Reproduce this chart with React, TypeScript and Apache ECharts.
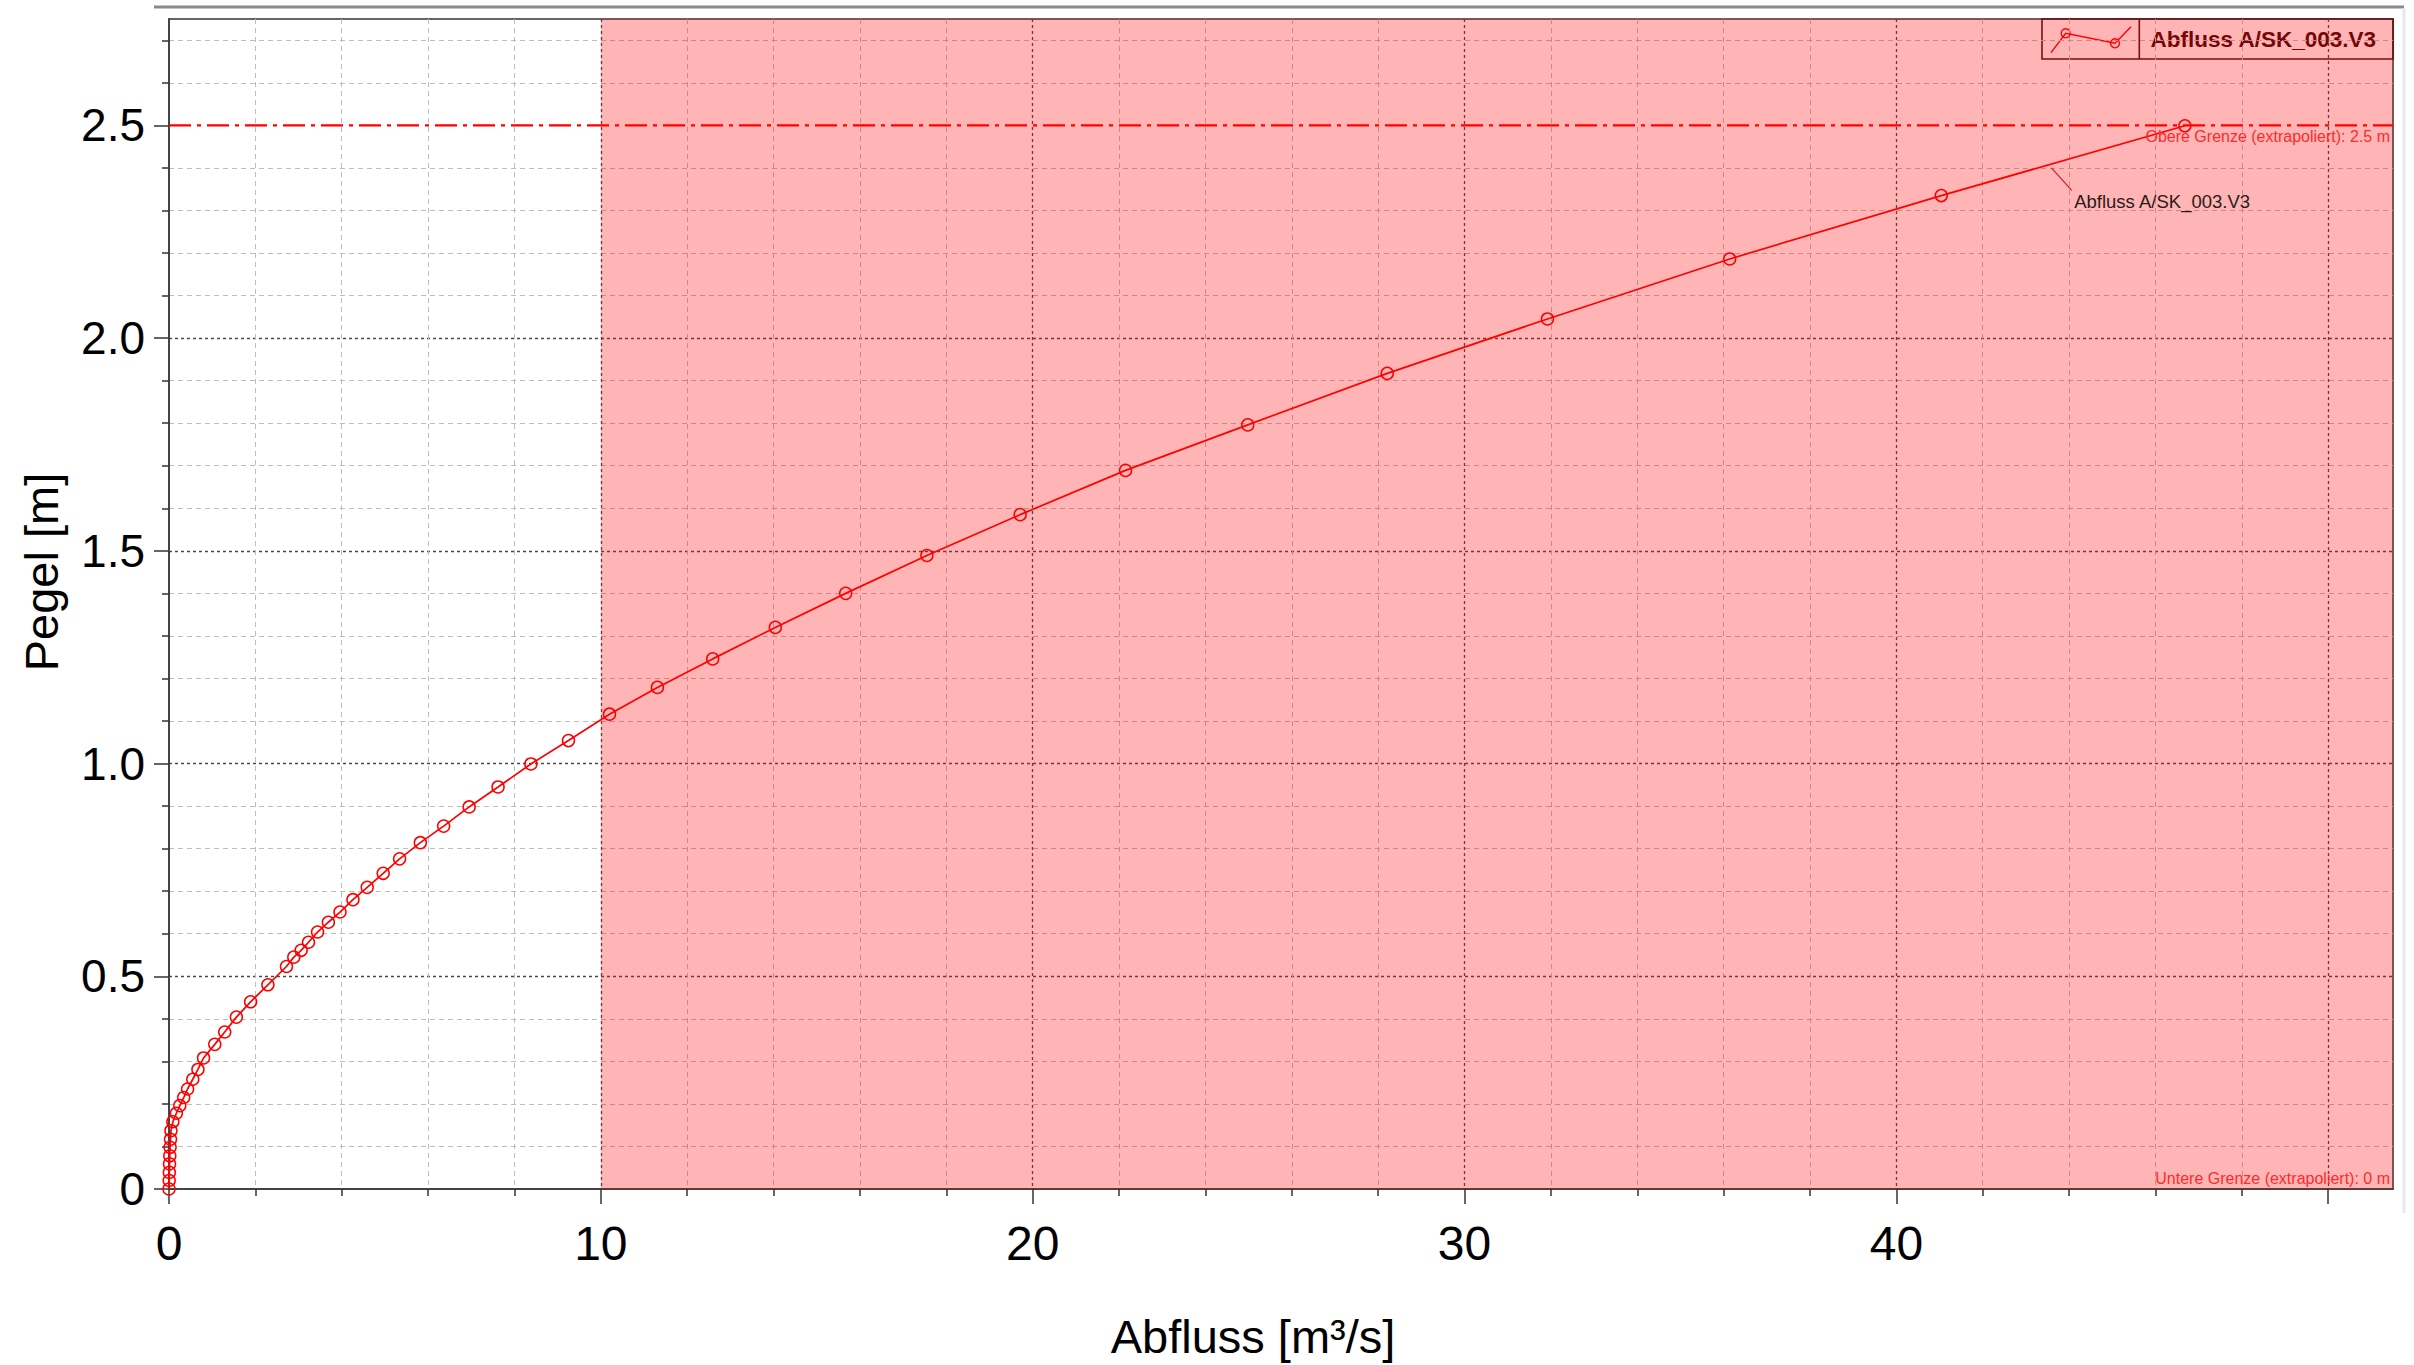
import React, { useEffect, useRef } from "react";
import * as echarts from "echarts";

// ---- data ----
const seriesName = "Abfluss A/SK_003.V3";
const dischargeQ = [
  0, 0.004, 0.008, 0.012, 0.018, 0.025, 0.035, 0.045, 0.09, 0.17, 0.25, 0.34,
  0.43, 0.55, 0.67, 0.8, 1.06, 1.29, 1.56, 1.89, 2.29, 2.72, 2.89, 3.06, 3.23,
  3.44, 3.69, 3.96, 4.26, 4.59, 4.96, 5.34, 5.82, 6.36, 6.95, 7.62, 8.38, 9.25,
  10.2, 11.31, 12.59, 14.04, 15.67, 17.55, 19.71, 22.15, 24.98, 28.21, 31.92,
  36.14, 41.04, 46.68,
];
const gaugeH = [
  0, 0.02, 0.039, 0.059, 0.078, 0.098, 0.117, 0.137, 0.158, 0.178, 0.196,
  0.215, 0.235, 0.258, 0.281, 0.308, 0.34, 0.369, 0.404, 0.44, 0.48, 0.523,
  0.545, 0.561, 0.58, 0.604, 0.627, 0.651, 0.68, 0.709, 0.742, 0.776, 0.814,
  0.853, 0.898, 0.945, 0.999, 1.054, 1.116, 1.179, 1.246, 1.32, 1.4, 1.489,
  1.585, 1.689, 1.796, 1.917, 2.045, 2.186, 2.335, 2.499,
];
const xMajorTicks = [0, 10, 20, 30, 40, 50];
const xTickLabels = [0, 10, 20, 30, 40];
const xMinorTicks = [2, 4, 6, 8, 12, 14, 16, 18, 22, 24, 26, 28, 32, 34, 36, 38, 42, 44, 46, 48];
const yMajorTicks = [0, 0.5, 1, 1.5, 2, 2.5];
const yMajorGridLines = [0.5, 1, 1.5, 2];
const yMinorTicks = [
  0.1, 0.2, 0.3, 0.4, 0.6, 0.7, 0.8, 0.9, 1.1, 1.2, 1.3, 1.4, 1.6, 1.7, 1.8,
  1.9, 2.1, 2.2, 2.3, 2.4, 2.6, 2.7,
];
const X_MAX = 51.5;
const Y_MAX = 2.75;
const shadedFrom = 10;
const upperLimit = 2.5;
const lowerLimit = 0;
const upperLabel = "Obere Grenze (extrapoliert): 2.5 m";
const lowerLabel = "Untere Grenze (extrapoliert): 0 m";
const curveLabelAnchor = [43.59, 2.4];
const curveLabelPos = [44.06, 2.347];
const curveTextPos = [44.06, 2.321];

const FONT = "'Liberation Sans', Arial, Helvetica, sans-serif";
const NONE = "rgba(0,0,0,0)";
const MAJOR_COLOR = "#4a4a4a";
const MINOR_COLOR = "#bdbdbd";

// colour list per split line of an axis with ticks at min, min+interval, ..., and max
function lineColors(interval: number, max: number, keep: number[], color: string) {
  const out: string[] = [];
  const n = Math.floor(max / interval + 1e-9);
  for (let i = 0; i <= n; i++) {
    const v = Math.round(i * interval * 1000) / 1000;
    out.push(keep.some((k) => Math.abs(k - v) < 1e-6) ? color : NONE);
  }
  if (Math.abs(n * interval - max) > 1e-6) out.push(NONE);
  return out;
}

export default function App() {
  const ref = useRef<HTMLDivElement>(null);

  useEffect(() => {
    if (!ref.current) return;
    const chart = echarts.init(ref.current, undefined, { renderer: "svg" });
    const points = dischargeQ.map((q, i) => [q, gaugeH[i]]);
    const limitText = { color: "#ff2a2a", fontSize: 16, fontFamily: FONT, distance: 3, show: true };

    const option: any = {
      animation: false,
      backgroundColor: "#ffffff",
      textStyle: { fontFamily: FONT },
      grid: {
        left: 169,
        top: 19,
        width: 2224,
        height: 1172.7,
        show: true,
        borderColor: "#333",
        borderWidth: 1.5,
        backgroundColor: "transparent",
      },
      xAxis: [
        {
          type: "value",
          position: "bottom",
          min: 0,
          max: X_MAX,
          interval: 10,
          axisLine: { show: true, onZero: false, lineStyle: { color: "#444", width: 2 } },
          axisTick: { show: true, customValues: xMajorTicks, length: 15, lineStyle: { color: "#333", width: 1.5 } },
          axisLabel: {
            customValues: xTickLabels,
            fontSize: 48,
            color: "#000",
            fontFamily: FONT,
            margin: 30,
          },
          splitLine: { show: false },
          name: "Abfluss [m³/s]",
          nameLocation: "middle",
          nameGap: 124,
          nameTextStyle: { fontSize: 47, color: "#000", fontFamily: FONT, padding: [0, 56, 0, 0] },
        },
        {
          type: "value",
          position: "bottom",
          min: 0,
          max: X_MAX,
          interval: 2,
          axisLine: { show: false },
          axisTick: { show: true, customValues: xMinorTicks, length: 7, lineStyle: { color: "#333", width: 1.5 } },
          axisLabel: { show: false },
          splitLine: { show: false },
        },
        {
          type: "value",
          position: "bottom",
          min: 0,
          max: X_MAX,
          interval: 2,
          axisLine: { show: false },
          axisTick: { show: false },
          axisLabel: { show: false },
          splitLine: {
            show: true,
            lineStyle: { color: lineColors(2, X_MAX, xMinorTicks, MINOR_COLOR), type: [5, 4], width: 1 },
          },
        },
        {
          type: "value",
          position: "bottom",
          min: 0,
          max: X_MAX,
          interval: 10,
          axisLine: { show: false },
          axisTick: { show: false },
          axisLabel: { show: false },
          splitLine: {
            show: true,
            lineStyle: { color: lineColors(10, X_MAX, xMajorTicks.filter((v) => v > 0), MAJOR_COLOR), type: [3, 3], width: 1.3 },
          },
        },
      ],
      yAxis: [
        {
          type: "value",
          position: "left",
          min: 0,
          max: Y_MAX,
          interval: 0.5,
          axisLine: { show: true, onZero: false, lineStyle: { color: "#444", width: 2 } },
          axisTick: { show: true, customValues: yMajorTicks, length: 15, lineStyle: { color: "#333", width: 1.5 } },
          axisLabel: {
            customValues: yMajorTicks,
            fontSize: 46,
            color: "#000",
            fontFamily: FONT,
            margin: 24,
            formatter: (v: number) => (v === 0 ? "0" : v.toFixed(1)),
          },
          splitLine: { show: false },
          name: "Pegel [m]",
          nameLocation: "middle",
          nameRotate: 90,
          nameGap: 104,
          nameTextStyle: { fontSize: 47, color: "#000", fontFamily: FONT, padding: [0, 0, 0, 64] },
        },
        {
          type: "value",
          position: "left",
          min: 0,
          max: Y_MAX,
          interval: 0.1,
          axisLine: { show: false },
          axisTick: { show: true, customValues: yMinorTicks, length: 7, lineStyle: { color: "#333", width: 1.5 } },
          axisLabel: { show: false },
          splitLine: { show: false },
        },
        {
          type: "value",
          position: "left",
          min: 0,
          max: Y_MAX,
          interval: 0.1,
          axisLine: { show: false },
          axisTick: { show: false },
          axisLabel: { show: false },
          splitLine: {
            show: true,
            lineStyle: { color: lineColors(0.1, Y_MAX, yMinorTicks, MINOR_COLOR), type: [5, 4], width: 1 },
          },
        },
        {
          type: "value",
          position: "left",
          min: 0,
          max: Y_MAX,
          interval: 0.5,
          axisLine: { show: false },
          axisTick: { show: false },
          axisLabel: { show: false },
          splitLine: {
            show: true,
            lineStyle: { color: lineColors(0.5, Y_MAX, yMajorGridLines, MAJOR_COLOR), type: [3, 3], width: 1.3 },
          },
        },
      ],
      series: [
        {
          name: "Obere Grenze",
          type: "line",
          xAxisIndex: 0,
          yAxisIndex: 0,
          data: [
            [0, upperLimit],
            [X_MAX, upperLimit],
          ],
          z: 3,
          symbol: "none",
          silent: true,
          emphasis: { disabled: true },
          lineStyle: { color: "#ff0000", width: 2.2, type: [22, 6, 4, 6] },
          markLine: {
            silent: true,
            symbol: ["none", "none"],
            lineStyle: { color: NONE, width: 0 },
            data: [
              { yAxis: upperLimit, label: { ...limitText, position: "insideEndBottom", formatter: upperLabel } },
              { yAxis: lowerLimit, label: { ...limitText, position: "insideEndTop", formatter: lowerLabel } },
            ],
          },
        },
        {
          name: seriesName,
          type: "line",
          xAxisIndex: 0,
          yAxisIndex: 0,
          data: points,
          z: 4,
          symbol: "circle",
          symbolSize: 12,
          itemStyle: { color: "rgba(255,0,0,0)", borderColor: "#ff0000", borderWidth: 1.5 },
          lineStyle: { color: "#ff0000", width: 1.7 },
          emphasis: { disabled: true },
          silent: true,
          markArea: {
            silent: true,
            itemStyle: { color: "rgba(255,0,0,0.29)" },
            data: [[{ xAxis: shadedFrom }, { xAxis: X_MAX }]],
          },
          markLine: {
            silent: true,
            symbol: ["none", "none"],
            lineStyle: { color: "#d02020", width: 1.2, type: "solid" },
            label: { show: false },
            data: [[{ coord: curveLabelAnchor }, { coord: curveLabelPos }]],
          },
          markPoint: {
            silent: true,
            symbol: "circle",
            symbolSize: 1,
            itemStyle: { color: "rgba(0,0,0,0)" },
            data: [
              {
                coord: curveTextPos,
                label: {
                  show: true,
                  position: "right",
                  distance: 2,
                  formatter: seriesName,
                  color: "#2a1a1a",
                  fontSize: 18.5,
                  fontFamily: FONT,
                },
              },
            ],
          },
        },
      ],
      graphic: [
        { type: "line", shape: { x1: 154, y1: 7, x2: 2404, y2: 7 }, style: { stroke: "#8a8a8a", lineWidth: 3 }, silent: true },
        { type: "line", shape: { x1: 2404, y1: 8, x2: 2404, y2: 1213 }, style: { stroke: "#e8e8e8", lineWidth: 3 }, silent: true },
        {
          type: "group",
          silent: true,
          z: 10,
          children: [
            { type: "rect", shape: { x: 2042, y: 19, width: 351, height: 40 }, style: { fill: "none", stroke: "#4a1212", lineWidth: 1.6 } },
            { type: "line", shape: { x1: 2139.3, y1: 19, x2: 2139.3, y2: 59 }, style: { stroke: "#4a1212", lineWidth: 1.6 } },
            {
              type: "polyline",
              shape: { points: [[2051, 52.7], [2065.7, 33.3], [2115, 43.3], [2131, 26.7]] },
              style: { stroke: "#ff0000", lineWidth: 1.4, fill: "none" },
            },
            { type: "circle", shape: { cx: 2065.7, cy: 33.3, r: 4.5 }, style: { fill: "none", stroke: "#ff0000", lineWidth: 1.4 } },
            { type: "circle", shape: { cx: 2115, cy: 43.3, r: 4.5 }, style: { fill: "none", stroke: "#ff0000", lineWidth: 1.4 } },
            {
              type: "text",
              x: 2150.5,
              y: 39,
              style: {
                text: seriesName,
                fill: "#3a0a0a",
                font: `bold 22.5px ${FONT}`,
                verticalAlign: "middle",
                align: "left",
              },
            },
          ],
        },
      ],
    };

    chart.setOption(option);
    return () => chart.dispose();
  }, []);

  return (
    <div
      ref={ref}
      style={{ position: "fixed", left: 0, top: 0, width: 2414, height: 1365, background: "#fff" }}
    />
  );
}
